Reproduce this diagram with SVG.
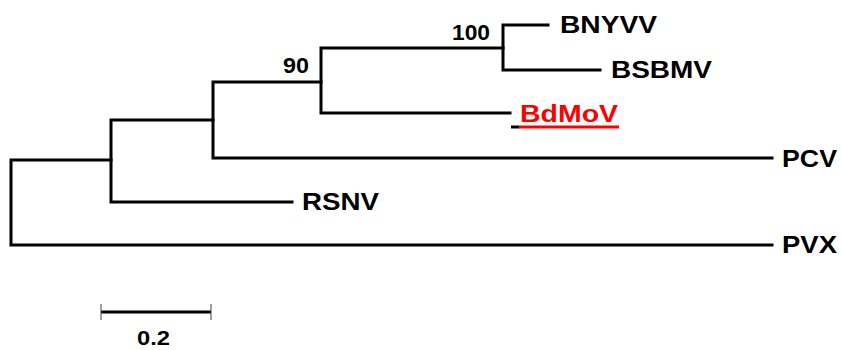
<svg xmlns="http://www.w3.org/2000/svg" width="841" height="350" viewBox="0 0 841 350">
<style>
.br{fill:none;stroke:#000;stroke-width:3;stroke-linejoin:miter;stroke-linecap:square}
.lb{font-family:"Liberation Sans",Arial,sans-serif;font-weight:bold;font-size:24px;fill:#000}
.bs{font-family:"Liberation Sans",Arial,sans-serif;font-weight:bold;font-size:22px;fill:#000}
</style>
<rect width="841" height="350" fill="#fff"/>
<g id="connectors">
<path class="br" d="M111,160 H11 V245 H772"/>
<path class="br" d="M213,120 H111 V202 H292"/>
<path class="br" d="M321,82 H213 V158 H772"/>
<path class="br" d="M503,48 H321 V113 H510"/>
<path class="br" d="M548,25 H503 V70 H600"/>
</g>
<g id="support">
<text class="bs" x="452" y="40" textLength="38" lengthAdjust="spacingAndGlyphs">100</text>
<text class="bs" x="283" y="73" textLength="26" lengthAdjust="spacingAndGlyphs">90</text>
</g>
<g id="BNYVV"><text class="lb" x="560" y="33" textLength="97" lengthAdjust="spacingAndGlyphs">BNYVV</text></g>
<g id="BSBMV"><text class="lb" x="611" y="78" textLength="101" lengthAdjust="spacingAndGlyphs">BSBMV</text></g>
<g id="BdMoV">
<text class="lb" x="520" y="122" textLength="98" lengthAdjust="spacingAndGlyphs" style="fill:#ff0000">BdMoV</text>
<line x1="511" y1="127" x2="519" y2="127" stroke="#000" stroke-width="3"/>
<line x1="519" y1="127" x2="619" y2="127" stroke="#ff0000" stroke-width="3"/>
</g>
<g id="PCV"><text class="lb" x="782" y="167" textLength="55" lengthAdjust="spacingAndGlyphs">PCV</text></g>
<g id="RSNV"><text class="lb" x="302" y="210" textLength="77" lengthAdjust="spacingAndGlyphs">RSNV</text></g>
<g id="PVX"><text class="lb" x="782" y="253" textLength="55" lengthAdjust="spacingAndGlyphs">PVX</text></g>
<g id="scalebar">
<line x1="101" y1="312" x2="211" y2="312" stroke="#000" stroke-width="3"/>
<line x1="101" y1="304" x2="101" y2="320" stroke="#444" stroke-width="1"/>
<line x1="211" y1="304" x2="211" y2="320" stroke="#444" stroke-width="1"/>
<text class="bs" x="137" y="345" textLength="33" lengthAdjust="spacingAndGlyphs" style="font-size:21px">0.2</text>
</g>
</svg>
